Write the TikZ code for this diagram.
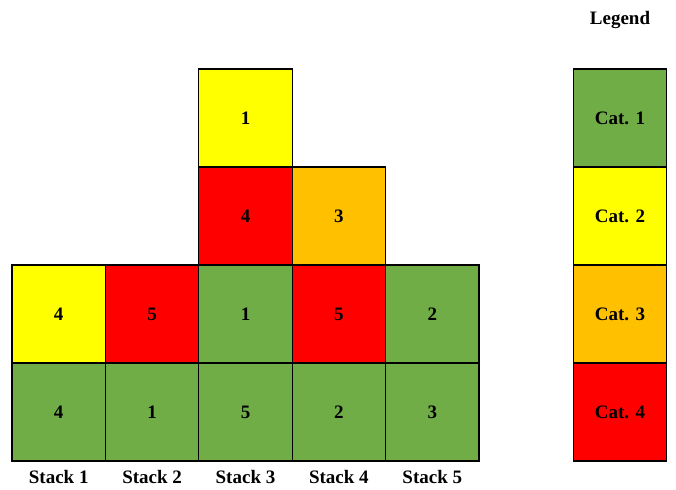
\documentclass[tikz,border=0pt]{standalone}
\usepackage{fontspec}
\setmainfont{Liberation Serif}
\usetikzlibrary{positioning}
\definecolor{CatOneClr}{RGB}{112,173,71}
\definecolor{CatTwoClr}{RGB}{255,255,0}
\definecolor{CatThreeClr}{RGB}{255,192,0}
\definecolor{CatFourClr}{RGB}{255,0,0}

\tikzset{
  cell/.style={draw=black,line width=1.2pt,minimum width=93.4pt,minimum height=98pt,
    inner sep=0pt,outer sep=0pt,font=\fontsize{19}{21}\selectfont\bfseries},
  stacklabel/.style={font=\fontsize{19}{21}\selectfont\bfseries,inner sep=0pt}
}

\begin{document}
\begin{tikzpicture}[x=1pt,y=-1pt]
\useasboundingbox (0,0) rectangle (676,489);

% bottom row
\node[cell,fill=CatOneClr] (s1a) at (58.7,412) {4};
\node[cell,fill=CatOneClr,right=0pt of s1a] (s2a) {1};
\node[cell,fill=CatOneClr,right=0pt of s2a] (s3a) {5};
\node[cell,fill=CatOneClr,right=0pt of s3a] (s4a) {2};
\node[cell,fill=CatOneClr,right=0pt of s4a] (s5a) {3};

% second row
\node[cell,fill=CatTwoClr,above=0pt of s1a] (s1b) {4};
\node[cell,fill=CatFourClr,above=0pt of s2a] (s2b) {5};
\node[cell,fill=CatOneClr,above=0pt of s3a] (s3b) {1};
\node[cell,fill=CatFourClr,above=0pt of s4a] (s4b) {5};
\node[cell,fill=CatOneClr,above=0pt of s5a] (s5b) {2};

% upper rows
\node[cell,fill=CatFourClr,above=0pt of s3b] (s3c) {4};
\node[cell,fill=CatThreeClr,above=0pt of s4b] (s4c) {3};
\node[cell,fill=CatTwoClr,above=0pt of s3c] (s3d) {1};

% stack labels
\foreach \i in {1,...,5}
  \node[stacklabel,anchor=center] (lab\i) at ([yshift=-16pt]s\i a.south) {Stack \i};

% legend
\node[cell,fill=CatFourClr] (leg4) at (620,412) {Cat. 4};
\node[cell,fill=CatThreeClr,above=0pt of leg4] (leg3) {Cat. 3};
\node[cell,fill=CatTwoClr,above=0pt of leg3] (leg2) {Cat. 2};
\node[cell,fill=CatOneClr,above=0pt of leg2] (leg1) {Cat. 1};
\node[stacklabel] (legtitle) at (620,20) {Legend};

\end{tikzpicture}
\end{document}
